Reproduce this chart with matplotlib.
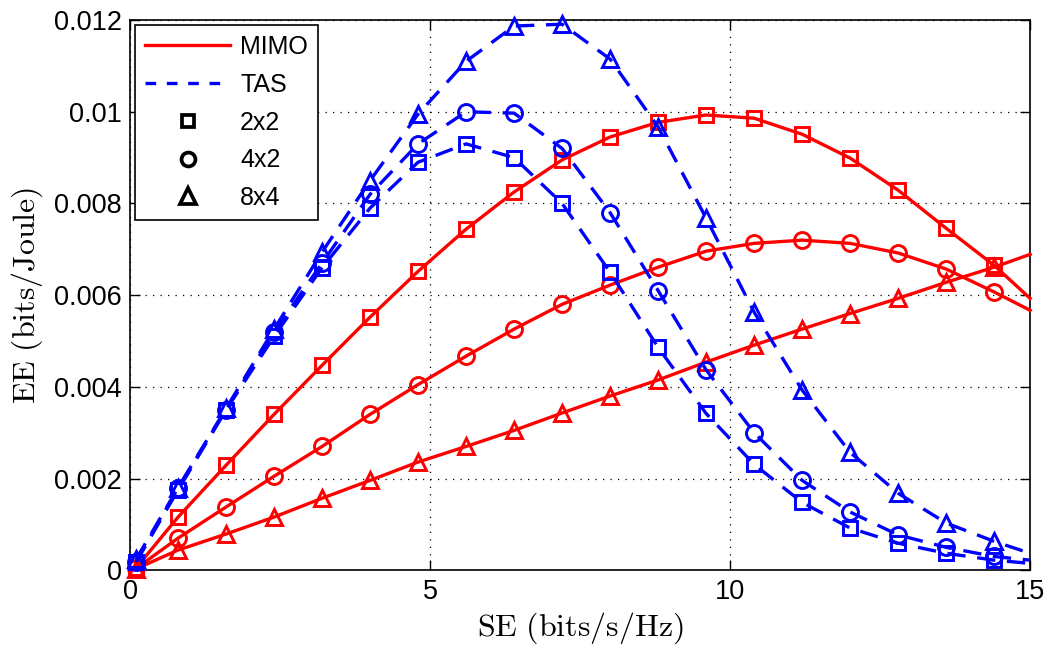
import matplotlib
matplotlib.use("Agg")
import matplotlib.pyplot as plt
from matplotlib.lines import Line2D

se = [0.1, 0.8, 1.6, 2.4, 3.2, 4.0, 4.8, 5.6, 6.4, 7.2, 8.0, 8.8, 9.6,
      10.4, 11.2, 12.0, 12.8, 13.6, 14.4, 15.0]

mimo_2x2 = [0.00005, 0.00116, 0.00229, 0.0034, 0.00447, 0.00552, 0.00652, 0.00744,
            0.00825, 0.00895, 0.00945, 0.00977, 0.00993, 0.00986, 0.00951, 0.00899,
            0.00829, 0.00746, 0.00665, 0.00593]
mimo_4x2 = [0.00004, 0.0007, 0.00138, 0.00205, 0.0027, 0.0034, 0.00405, 0.00467,
            0.00526, 0.0058, 0.00622, 0.00661, 0.00696, 0.00713, 0.0072, 0.00713,
            0.00692, 0.00657, 0.00607, 0.00567]
mimo_8x4 = [0.00003, 0.00044, 0.00079, 0.00116, 0.00157, 0.00196, 0.00236, 0.0027,
            0.00305, 0.00343, 0.0038, 0.00415, 0.00454, 0.00491, 0.00526, 0.0056,
            0.00593, 0.00628, 0.00661, 0.00689]
tas_2x2 = [0.00018, 0.00175, 0.0035, 0.0051, 0.0066, 0.0079, 0.0089, 0.0093,
           0.0090, 0.0080, 0.0065, 0.00486, 0.00342, 0.00231, 0.00148, 0.00092,
           0.00059, 0.00037, 0.00022, 0.00015]
tas_4x2 = [0.00018, 0.0018, 0.0035, 0.0052, 0.0067, 0.0082, 0.0093, 0.0100,
           0.00997, 0.0092, 0.0078, 0.0061, 0.00437, 0.0030, 0.00196, 0.00127,
           0.00077, 0.0005, 0.0003, 0.00022]
tas_8x4 = [0.00024, 0.0018, 0.00353, 0.00526, 0.00694, 0.0085, 0.00995, 0.0111,
           0.01187, 0.01191, 0.01115, 0.00967, 0.00768, 0.00563, 0.00393, 0.00257,
           0.00168, 0.00103, 0.00063, 0.00037]

xticks = [0, 5, 10, 15]
yticks = [0, 0.002, 0.004, 0.006, 0.008, 0.01, 0.012]
yticklabels = ["0", "0.002", "0.004", "0.006", "0.008", "0.01", "0.012"]

plt.rcParams['font.family'] = ['Liberation Sans', 'DejaVu Sans']
plt.rcParams['mathtext.fontset'] = 'cm'

fig = plt.figure(figsize=(10.49, 6.48), dpi=100)
ax = fig.add_axes([0.124, 0.120, 0.858, 0.849])

red = '#ff0000'
blue = '#0000ff'
lw = 2.4
ms = 11.5
mew = 2.1
dash = (0, (5.5, 3.5))
n = len(se) - 1  # markers on all but the final end point

series = [
    (mimo_2x2, red, '-', 's'),
    (mimo_4x2, red, '-', 'o'),
    (mimo_8x4, red, '-', '^'),
    (tas_2x2, blue, dash, 's'),
    (tas_4x2, blue, dash, 'o'),
    (tas_8x4, blue, dash, '^'),
]
for ys, c, ls, m in series:
    ax.plot(se, ys, color=c, linestyle=ls, linewidth=lw, marker=m,
            markersize=ms if m != 's' else ms * 0.9, markerfacecolor='none',
            markeredgecolor=c, markeredgewidth=mew, markevery=list(range(n)),
            clip_on=False, zorder=3)

ax.set_xlim(0, 15)
ax.set_ylim(0, 0.012)
ax.set_xticks(xticks)
ax.set_xticklabels([str(t) for t in xticks])
ax.set_yticks(yticks)
ax.set_yticklabels(yticklabels)
ax.tick_params(direction='in', length=7, width=1.0, labelsize=19.5,
               top=True, right=True, pad=6)
ax.grid(True, linestyle=(0, (1, 5)), color='black', linewidth=0.9)
for s in ax.spines.values():
    s.set_linewidth(1.2)

ax.set_xlabel(r'$\mathrm{SE\ (bits/s/Hz)}$', fontsize=23, labelpad=4)
ax.set_ylabel(r'$\mathrm{EE\ (bits/Joule)}$', fontsize=23, labelpad=6)

handles = [
    Line2D([], [], color=red, linestyle='-', linewidth=lw),
    Line2D([], [], color=blue, linestyle=(0, (3.2, 3.2)), linewidth=lw),
    Line2D([], [], color='black', linestyle='none', marker='s', markersize=9,
           markerfacecolor='none', markeredgewidth=2.7),
    Line2D([], [], color='black', linestyle='none', marker='o', markersize=10,
           markerfacecolor='none', markeredgewidth=2.7),
    Line2D([], [], color='black', linestyle='none', marker='^', markersize=11,
           markerfacecolor='none', markeredgewidth=2.7),
]
labels = ['MIMO', 'TAS', '2x2', '4x2', '8x4']
leg = ax.legend(handles, labels, loc='upper left', fontsize=18, frameon=True,
                fancybox=False, edgecolor='black', framealpha=1,
                handlelength=3.4, handletextpad=0.4, borderpad=0.4,
                labelspacing=0.55, borderaxespad=0.2)
leg.get_frame().set_linewidth(1.2)
leg.set_zorder(5)

fig.savefig('out.png', dpi=100)
